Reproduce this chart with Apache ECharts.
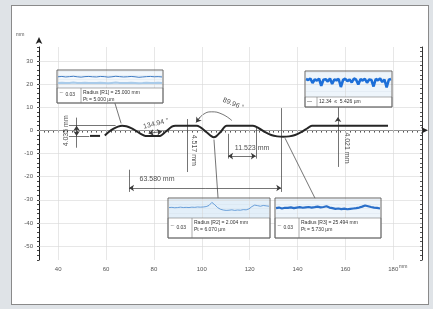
<!DOCTYPE html>
<html>
<head>
<meta charset="utf-8">
<script src="https://cdn.jsdelivr.net/npm/echarts@6/dist/echarts.min.js"></script>
<style>
html,body{margin:0;padding:0;background:#dfe3e7;}
#wrap{position:relative;width:433px;height:309px;}
#panel{position:absolute;left:11px;top:5px;width:416px;height:298px;background:#fff;border:1px solid #8a8a8a;}
#main{position:absolute;left:0;top:0;width:433px;height:309px;}
</style>
</head>
<body>
<div id="wrap"><div id="panel"></div><div id="main"></div></div>
<script>
// profile (mm)
var profileX = [59.5, 61, 63, 65, 66.7, 68.5, 70.5, 72.5, 74.5, 76.5, 82.5, 85, 87.5, 89, 97.9, 102, 104, 105, 106, 108, 110.4,
  121.4, 124, 126.5, 129, 131.5, 134, 136.5, 139, 141.5, 144, 146, 177.8];
var profileY = [-2.2, -0.8, 0.6, 1.6, 2.0, 1.8, 1.0, -0.2, -1.5, -2.4, -2.4, -0.5, 1.6, 2.0, 2.0, -0.8, -2.5, -3.0, -2.6, -0.5, 2.0,
  2.0, 0.8, -0.8, -2.0, -2.6, -2.8, -2.6, -2.0, -0.8, 0.8, 2.0, 2.0];
var leadX = [53.3, 57.5];
var leadY = [-2.4, -2.4];

var xTicks = [40, 60, 80, 100, 120, 140, 160, 180];
var yTicks = [30, 20, 10, 0, -10, -20, -30, -40, -50];

var dimLabels = ['4.035 mm', '134.94 °', '89.96 °', '4.517 mm', '11.523 mm', '63.580 mm', '4.021 mm'];

// traces in the small windows
var r1Trace = [0.66,0.68,0.65,0.67,0.69,0.66,0.64,0.67,0.68,0.66,0.65,0.68,0.67,0.64,0.66,0.69,0.67,0.65,0.66,0.68,0.66,0.63,0.65,0.67,0.68,0.66,0.67,0.65];
var r1Band = [0.30,0.31,0.29,0.30,0.32,0.30,0.29,0.31,0.30,0.30,0.29,0.31,0.30,0.28,0.30,0.32,0.30,0.29,0.30,0.31,0.30,0.28,0.29,0.31,0.30,0.30,0.31,0.29];
var rzTrace = [0.72,0.68,0.74,0.56,0.70,0.66,0.73,0.45,0.69,0.71,0.62,0.74,0.52,0.70,0.67,0.72,0.40,0.68,0.73,0.63,0.70,0.58,0.74,0.69,0.50,0.71,0.66,0.73,0.57,0.70,0.68,0.42,0.72,0.67,0.74,0.60,0.70,0.38,0.69,0.72];
var r2Trace = [0.55,0.56,0.54,0.55,0.57,0.55,0.56,0.55,0.57,0.56,0.58,0.57,0.58,0.60,0.66,0.82,0.70,0.55,0.46,0.42,0.40,0.41,0.43,0.40,0.42,0.41,0.44,0.43,0.48,0.60,0.68,0.65,0.62,0.66,0.64,0.62];
var r3Trace = [0.52,0.55,0.50,0.54,0.53,0.56,0.52,0.55,0.57,0.54,0.56,0.58,0.55,0.57,0.60,0.56,0.58,0.62,0.55,0.52,0.48,0.50,0.47,0.49,0.46,0.48,0.50,0.52,0.55,0.60,0.66,0.62,0.58,0.55,0.53,0.50];

var boxIcons = ['⌒ 0.03', '—', '⌒ 0.03', '⌒ 0.03'];
var boxLine1 = ['Radius [R1] = 25.000 mm', '12.34  ≤  5.426 µm', 'Radius [R2] = 2.004 mm', 'Radius [R3] = 25.494 mm'];
var boxLine2 = ['Pt = 5.000 µm', '', 'Pt = 6.070 µm', 'Pt = 5.730 µm'];

function zip(a, b) { return a.map(function (v, i) { return [v, b[i]]; }); }
function seg(a, b, s1, s2) { return [{ coord: a, symbol: s1 || 'none' }, { coord: b, symbol: s2 || 'none' }]; }

var font = 'Liberation Sans';
var ink = '#3a3a3a';

// small windows layout: frame, chart part height
var boxes = [
  { x: 57, y: 70, w: 106, h: 33, ch: 18 },
  { x: 305, y: 71, w: 87, h: 36, ch: 26 },
  { x: 168, y: 198, w: 102, h: 40, ch: 20 },
  { x: 275, y: 198, w: 106, h: 40, ch: 20 }
];
var traces = [r1Trace, rzTrace, r2Trace, r3Trace];
var traceStyle = [
  { color: '#3f7cc4', width: 1 },
  { color: '#1d6fd8', width: 2.6 },
  { color: '#4a8ad0', width: 0.8 },
  { color: '#2a6fc9', width: 2.2 }
];
var traceBg = ['#f2f7fc', '#eef5fb', '#e3eff9', '#eef5fb'];

var grids = [{ left: 39, right: 11, top: 47, bottom: 49 }];
var xAxes = [
  {
    type: 'value', gridIndex: 0, min: 32, max: 192, interval: 2, position: 'bottom',
    axisLine: { lineStyle: { color: '#222', width: 1 }, symbol: ['none', 'arrow'], symbolSize: [5, 7], symbolOffset: [0, 6] },
    axisTick: { length: 2, lineStyle: { color: '#444' } },
    axisLabel: { interval: 0, fontSize: 6, color: '#555', fontFamily: font, margin: 6,
      formatter: function (v) { return (v % 20 === 0 && v >= 40 && v <= 180) ? String(v) : ''; } },
    splitLine: { show: false }
  },
  {
    type: 'value', gridIndex: 0, min: 32, max: 192, interval: 2, position: 'top',
    axisLine: { lineStyle: { color: '#333', width: 1 } },
    axisTick: { length: 2, inside: true, lineStyle: { color: '#555' } },
    axisLabel: { show: false }, splitLine: { show: false }
  }
];
var yAxes = [
  {
    type: 'value', gridIndex: 0, min: -56, max: 36, interval: 2, position: 'left',
    axisLine: { lineStyle: { color: '#222', width: 1 }, symbol: ['none', 'arrow'], symbolSize: [5, 7], symbolOffset: [0, 10] },
    axisTick: { length: 2, lineStyle: { color: '#444' } },
    axisLabel: { interval: 0, fontSize: 6, color: '#555', fontFamily: font, margin: 6,
      formatter: function (v) { return (v % 10 === 0 && v >= -50 && v <= 30) ? String(v) : ''; } },
    splitLine: { show: false }
  },
  {
    type: 'value', gridIndex: 0, min: -56, max: 36, interval: 2, position: 'right',
    axisLine: { lineStyle: { color: '#333', width: 1 } },
    axisTick: { length: 2, inside: true, lineStyle: { color: '#555' } },
    axisLabel: { show: false }, splitLine: { show: false }
  }
];

var series = [];

// grid lines
series.push({
  type: 'line', xAxisIndex: 0, yAxisIndex: 0, data: [], z: 1, silent: true,
  markLine: {
    silent: true, symbol: 'none', label: { show: false }, animation: false,
    lineStyle: { color: '#d6d6d6', width: 0.6, type: 'solid' },
    data: xTicks.map(function (v) { return { xAxis: v }; }).concat(yTicks.map(function (v) { return { yAxis: v }; }))
  }
});

// profile
series.push({
  type: 'line', xAxisIndex: 0, yAxisIndex: 0, data: zip(profileX, profileY), smooth: 0.3,
  showSymbol: false, lineStyle: { color: '#262626', width: 2 }, z: 5
});
series.push({
  type: 'line', xAxisIndex: 0, yAxisIndex: 0, data: zip(leadX, leadY),
  showSymbol: false, lineStyle: { color: '#262626', width: 2 }, z: 5
});

// dimension and leader lines
series.push({
  type: 'line', xAxisIndex: 0, yAxisIndex: 0, data: [], z: 4,
  markLine: {
    silent: true, animation: false, label: { show: false }, symbolSize: 5,
    lineStyle: { color: ink, width: 0.7, type: 'solid' },
    data: [
      seg([44.5, 2.0], [64, 2.0]),
      seg([44.5, -2.4], [53, -2.4]),
      seg([47.7, 5.5], [47.7, -7.5]),
      seg([47.7, -0.2], [47.7, 2.0], 'none', 'arrow'),
      seg([47.7, -0.2], [47.7, -2.4], 'none', 'arrow'),
      seg([77.8, -1.3], [83.4, -0.5], 'arrow', 'arrow'),
      seg([99.2, 5.6], [97.6, 3.4], 'none', 'arrow'),
      seg([93.8, 4.9], [93.8, -18]),
      seg([111, -1.5], [111, -12.2]),
      seg([122.6, 1.5], [122.6, -12.2]),
      seg([116.8, -11.1], [111, -11.1], 'none', 'arrow'),
      seg([116.8, -11.1], [122.6, -11.1], 'none', 'arrow'),
      seg([69.6, -17], [69.6, -26.6]),
      seg([133.2, 9.6], [133.2, -26.6]),
      seg([101.4, -24.9], [69.6, -24.9], 'none', 'arrow'),
      seg([101.4, -24.9], [133.2, -24.9], 'none', 'arrow'),
      seg([156.9, -15.8], [156.9, 5.8], 'none', 'arrow'),
      seg([156.9, 5.8], [156.9, 10.1]),
      seg([63.7, 11.8], [66.3, 3.0]),
      seg([106.8, -29.3], [105.1, -4.0]),
      seg([147.3, -29.3], [134.8, -3.4])
    ]
  }
});

// angle arc over the V
series.push({
  type: 'line', xAxisIndex: 0, yAxisIndex: 0, smooth: true, showSymbol: false, z: 4,
  data: [[98.4, 4.4], [100.5, 6.8], [104, 8.0], [108.5, 7.0], [112.6, 4.2]],
  lineStyle: { color: ink, width: 0.7 }
});

// dimension texts
var textPos = [[43.4, -0.2, 90], [80.9, 2.9, 14], [113.2, 11.4, -22], [96.6, -8.6, -90], [121, -7.7, 0], [81.3, -21, 0], [160.7, -7.6, -90]];
series.push({
  type: 'scatter', xAxisIndex: 0, yAxisIndex: 0, symbol: 'circle', symbolSize: 1, z: 6,
  itemStyle: { color: 'rgba(0,0,0,0)' },
  data: textPos.map(function (p, i) {
    return {
      value: [p[0], p[1]],
      label: { show: true, position: 'inside', formatter: dimLabels[i], rotate: p[2], fontSize: 7, color: '#222', fontFamily: font }
    };
  })
});

// small windows
var graphics = [
  { type: 'text', x: 16, y: 32, style: { text: 'mm', fontSize: 5, fill: '#555', fontFamily: font }, z: 20 },
  { type: 'text', x: 399, y: 264, style: { text: 'mm', fontSize: 5, fill: '#555', fontFamily: font }, z: 20 }
];
boxes.forEach(function (b, i) {
  var gi = grids.length;
  var ai = xAxes.length;
  grids.push({ left: b.x + 1, top: b.y + 1, width: b.w - 2, height: b.ch - 1, show: true, backgroundColor: traceBg[i], borderWidth: 0 });
  xAxes.push({ type: 'category', gridIndex: gi, show: false, boundaryGap: false, data: traces[i].map(function (v, k) { return k; }) });
  yAxes.push({
    type: 'value', gridIndex: gi, min: 0, max: 1, interval: 0.25,
    axisLine: { show: false }, axisTick: { show: false }, axisLabel: { show: false },
    splitLine: { lineStyle: { color: '#c9d6e3', width: 0.5, type: 'dotted' } }
  });
  series.push({
    type: 'line', xAxisIndex: ai, yAxisIndex: ai, data: traces[i], showSymbol: false,
    lineStyle: traceStyle[i], z: 8
  });
  if (i === 0) {
    series.push({ type: 'line', xAxisIndex: ai, yAxisIndex: ai, data: r1Band, showSymbol: false,
      lineStyle: { color: '#a9cbea', width: 2 }, z: 7 });
  }
  var ty = b.y + b.ch;
  var iconW = i === 1 ? 12 : 24;
  graphics.push({ type: 'rect', shape: { x: b.x, y: ty, width: b.w, height: b.h - b.ch }, style: { fill: '#fff', stroke: '#777', lineWidth: 0.6 }, z: 20 });
  graphics.push({ type: 'line', shape: { x1: b.x + iconW, y1: ty, x2: b.x + iconW, y2: b.y + b.h }, style: { stroke: '#777', lineWidth: 0.6 }, z: 21 });
  graphics.push({ type: 'text', x: b.x + 2, y: ty + (b.h - b.ch) / 2 - 3, style: { text: boxIcons[i], fontSize: 5, fill: '#333', fontFamily: font }, z: 21 });
  var l2 = boxLine2[i];
  graphics.push({ type: 'text', x: b.x + iconW + 2, y: l2 ? ty + 2 : ty + (b.h - b.ch) / 2 - 3, style: { text: boxLine1[i], fontSize: 5, fill: '#333', fontFamily: font }, z: 21 });
  if (l2) {
    graphics.push({ type: 'text', x: b.x + iconW + 2, y: ty + 9, style: { text: l2, fontSize: 5, fill: '#333', fontFamily: font }, z: 21 });
  }
  graphics.push({ type: 'rect', shape: { x: b.x, y: b.y, width: b.w, height: b.h }, style: { fill: 'none', stroke: '#666', lineWidth: 1 }, z: 22 });
});

var chart = echarts.init(document.getElementById('main'));
chart.setOption({
  animation: false,
  backgroundColor: 'transparent',
  grid: grids,
  xAxis: xAxes,
  yAxis: yAxes,
  series: series,
  graphic: graphics
});
</script>
</body>
</html>
